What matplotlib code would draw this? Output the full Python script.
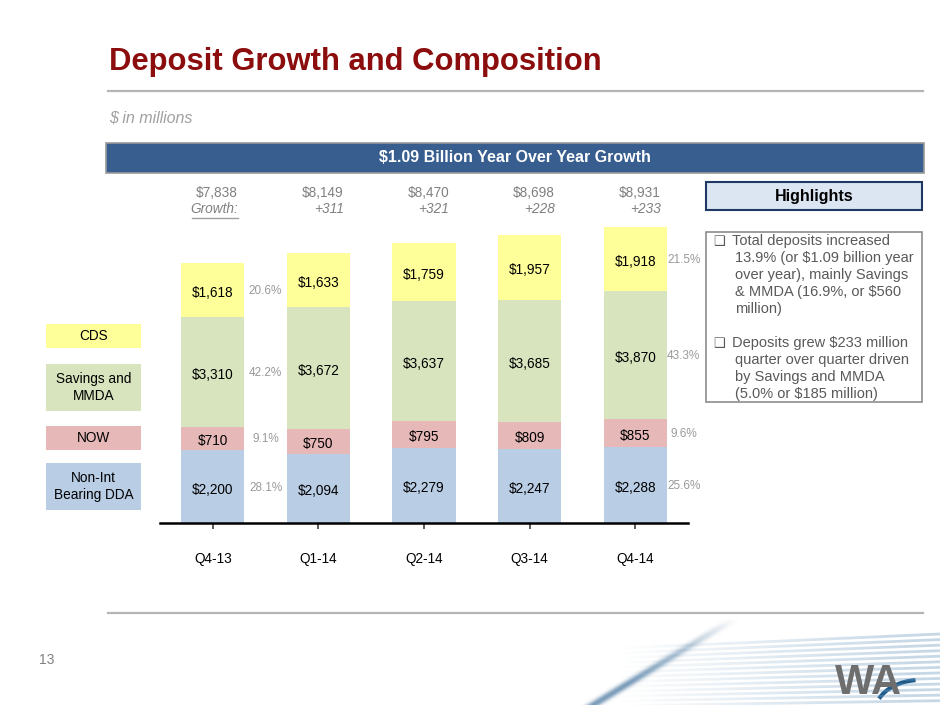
import matplotlib
matplotlib.use("Agg")
import matplotlib.pyplot as plt
import numpy as np
from matplotlib.patches import Rectangle, Arc
from matplotlib.collections import LineCollection

plt.rcParams['font.family'] = ['Liberation Sans', 'DejaVu Sans']

# data
quarters = ['Q4-13', 'Q1-14', 'Q2-14', 'Q3-14', 'Q4-14']
dda = [2200, 2094, 2279, 2247, 2288]
now = [710, 750, 795, 809, 855]
savings = [3310, 3672, 3637, 3685, 3870]
cds = [1618, 1633, 1759, 1957, 1918]
totals = [7838, 8149, 8470, 8698, 8931]
growth = ['', '+311', '+321', '+228', '+233']
pct_first = ['28.1%', '9.1%', '42.2%', '20.6%']
pct_last = ['25.6%', '9.6%', '43.3%', '21.5%']
legend_labels = ['Non-Int\nBearing DDA', 'NOW', 'Savings and\nMMDA', 'CDS']
colors = ['#B9CDE5', '#E6B9B8', '#D7E4BD', '#FFFF99']
bullets = [
    ['Total deposits increased', '13.9% (or $1.09 billion year',
     'over year), mainly Savings', '& MMDA (16.9%, or $560', 'million)'],
    ['Deposits grew $233 million', 'quarter over quarter driven',
     'by Savings and MMDA', '(5.0% or $185 million)'],
]

W, H = 940, 705
fig = plt.figure(figsize=(9.4, 7.05), dpi=100)

# slide layer in pixel coordinates
bg = fig.add_axes([0, 0, 1, 1])
bg.set_xlim(0, W)
bg.set_ylim(H, 0)
bg.axis('off')


def fade_line(x0, y0, x1, y1, rgb, amax, lw, fade_from=0.0, fade_to=1.0, n=60):
    t = np.linspace(0, 1, n)
    pts = np.column_stack([x0 + (x1 - x0) * t, y0 + (y1 - y0) * t]).reshape(-1, 1, 2)
    segs = np.concatenate([pts[:-1], pts[1:]], axis=1)
    a = np.clip((t[:-1] - fade_from) / (fade_to - fade_from), 0, 1) * amax
    bg.add_collection(LineCollection(segs, colors=[(*rgb, v) for v in a],
                                     linewidths=lw))


# decorative swoosh bottom right
for k in range(13):
    y0 = 646 + k * 4.7
    fade_line(580, y0 + 4, 940, y0 - 12 * (1 - k / 14), (0.42, 0.6, 0.75),
              0.38, 2.0, fade_from=0.1, fade_to=0.9)
for off in np.linspace(-14, 14, 15):
    a = 0.28 * np.exp(-(off / 6) ** 2)
    fade_line(735 + off, 618, 585 + off, 710, (0.12, 0.35, 0.55), a, 2.2,
              fade_from=0.0, fade_to=0.7)
bg.text(868, 683, 'WA', fontsize=30, fontweight='bold', color='#6E6E6E',
        ha='center', va='center')
bg.add_patch(Arc((920, 712), 90, 64, theta1=198, theta2=262,
                 color='#1F5A8A', lw=3))

# title and rules
bg.text(109, 62, 'Deposit Growth and Composition', fontsize=22.3,
        fontweight='bold', color='#8B0D0D', ha='left', va='center')
bg.plot([108, 923], [91, 91], color='#B5B5B5', lw=1.6)
bg.plot([108, 923], [613, 613], color='#B5B5B5', lw=1.6)
bg.text(109, 118, '$ in millions', fontsize=11.5, style='italic',
        color='#A0A0A0', ha='left', va='center')
bg.text(47, 660, '13', fontsize=10, color='#808080', ha='center', va='center')

# banner
bg.add_patch(Rectangle((106, 143), 818, 30, facecolor='#375E8F',
                       edgecolor='#9A9A9A', lw=1.2))
bg.text(515, 158, '$1.09 Billion Year Over Year Growth', fontsize=11.5,
        fontweight='bold', color='white', ha='center', va='center')

# highlights
bg.add_patch(Rectangle((706, 182), 216, 28, facecolor='#DCE6F2',
                       edgecolor='#1F3864', lw=1.5))
bg.text(814, 196, 'Highlights', fontsize=11.5, fontweight='bold',
        color='black', ha='center', va='center')
bg.add_patch(Rectangle((706, 232), 216, 170, facecolor='white',
                       edgecolor='#8C8C8C', lw=1.2))
line_y = 241
for block in bullets:
    bg.text(719, line_y, '\u2751', fontsize=9.5, color='#595959',
            ha='center', va='center', family=['DejaVu Sans'])
    for i, ln in enumerate(block):
        x = 732 if i == 0 else 735
        bg.text(x, line_y, ln, fontsize=10.5, color='#595959',
                ha='left', va='center')
        line_y += 17
    line_y += 17

# legend boxes
leg_boxes = [(463, 47), (426, 24), (364, 47), (324, 24)]
for (top, h), lab, c in zip(leg_boxes, legend_labels, colors):
    bg.add_patch(Rectangle((46, top), 95, h, facecolor=c, edgecolor='none'))
    bg.text(93.5, top + h / 2, lab, fontsize=9.8, color='black',
            ha='center', va='center', linespacing=1.25)

# bar chart
ax = fig.add_axes([160 / W, 1 - 523 / H, 528 / W, 303 / H])
ax.patch.set_alpha(0)
x = np.arange(len(quarters))
series = [dda, now, savings, cds]
bottom = np.zeros(len(quarters))
centers = []
for vals, c in zip(series, colors):
    vals = np.array(vals)
    ax.bar(x, vals, 0.6, bottom=bottom, color=c, edgecolor='none')
    mid = bottom + vals / 2
    centers.append(mid)
    for xi, m, v in zip(x, mid, vals):
        ax.text(xi, m - 90, f'${v:,}', fontsize=9.8, color='black',
                ha='center', va='center')
    bottom = bottom + vals

for mid, p1, p2 in zip(centers, pct_first, pct_last):
    ax.text(0.5, mid[0] - 30, p1, fontsize=8.5, color='#9A9A9A',
            ha='center', va='center')
    ax.text(4.46, mid[-1] - 30, p2, fontsize=8.5, color='#9A9A9A',
            ha='center', va='center')

tr = ax.get_xaxis_transform()
for xi, t, g in zip(x, totals, growth):
    ax.text(xi + 0.24, 1.089, f'${t:,}', transform=tr, fontsize=9.8,
            color='#808080', ha='right', va='center')
    if g:
        ax.text(xi + 0.24, 1.036, g, transform=tr, fontsize=9.8,
                style='italic', color='#808080', ha='right', va='center')
ax.text(0.24, 1.036, 'Growth:', transform=tr, fontsize=9.8, style='italic',
        color='#808080', ha='right', va='center')
ax.plot([-0.2, 0.24], [1.008, 1.008], transform=tr, color='#A0A0A0',
        lw=1, clip_on=False)

ax.set_xlim(-0.5, 4.5)
ax.set_ylim(0, 9150)
ax.set_xticks(x)
ax.set_xticklabels(quarters, fontsize=9.8)
ax.tick_params(axis='x', length=4, width=1.2, color='#404040', pad=17)
ax.set_yticks([])
for s in ['top', 'right', 'left']:
    ax.spines[s].set_visible(False)
ax.spines['bottom'].set_linewidth(1.8)
ax.spines['bottom'].set_color('black')

fig.savefig('out.png', dpi=100)
